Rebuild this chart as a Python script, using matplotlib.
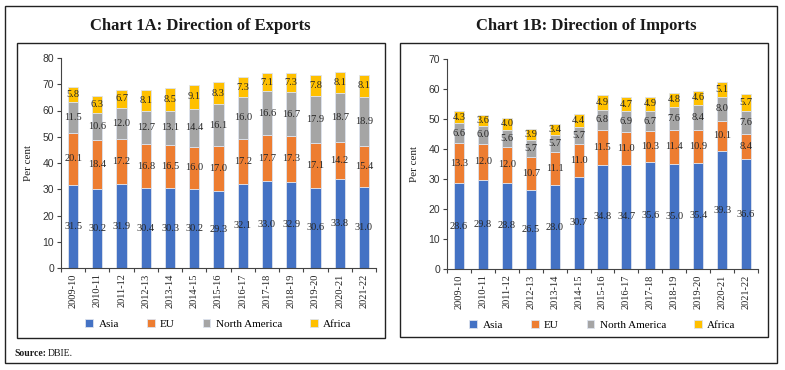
"""Direction of India's exports and imports by region (Charts 1A and 1B)."""

import matplotlib

matplotlib.use("Agg")
import matplotlib.pyplot as plt
from matplotlib.patches import Rectangle

years = ["2009-10", "2010-11", "2011-12", "2012-13", "2013-14", "2014-15", "2015-16",
         "2016-17", "2017-18", "2018-19", "2019-20", "2020-21", "2021-22"]
regions = ["Asia", "EU", "North America", "Africa"]

exp_asia = [31.5, 30.2, 31.9, 30.4, 30.3, 30.2, 29.3, 32.1, 33.0, 32.9, 30.6, 33.8, 31.0]
exp_eu = [20.1, 18.4, 17.2, 16.8, 16.5, 16.0, 17.0, 17.2, 17.7, 17.3, 17.1, 14.2, 15.4]
exp_na = [11.5, 10.6, 12.0, 12.7, 13.1, 14.4, 16.1, 16.0, 16.6, 16.7, 17.9, 18.7, 18.9]
exp_africa = [5.8, 6.3, 6.7, 8.1, 8.5, 9.1, 8.3, 7.3, 7.1, 7.3, 7.8, 8.1, 8.1]

imp_asia = [28.6, 29.8, 28.8, 26.5, 28.0, 30.7, 34.8, 34.7, 35.6, 35.0, 35.4, 39.3, 36.6]
imp_eu = [13.3, 12.0, 12.0, 10.7, 11.1, 11.0, 11.5, 11.0, 10.3, 11.4, 10.9, 10.1, 8.4]
imp_na = [6.6, 6.0, 5.6, 5.7, 5.7, 5.7, 6.8, 6.9, 6.7, 7.6, 8.4, 8.0, 7.6]
imp_africa = [4.3, 3.6, 4.0, 3.9, 3.4, 4.4, 4.9, 4.7, 4.9, 4.8, 4.6, 5.1, 5.7]

COLORS = ["#4472C4", "#ED7D31", "#A5A5A5", "#FFC000"]
SERIF = ["Liberation Serif", "DejaVu Serif"]
SANS = ["Liberation Sans", "DejaVu Sans"]
W, H = 785, 370


def _box(fig, x0, y0, x1, y1):
    # pixel coords (top-left origin) -> figure fraction
    fig.patches.append(Rectangle((x0 / W, 1 - y1 / H), (x1 - x0) / W, (y1 - y0) / H,
                                 transform=fig.transFigure, fill=False,
                                 edgecolor="#222222", linewidth=1.0))


def _panel(fig, rect, series, ymax, title, title_x):
    ax = fig.add_axes(rect)
    x = list(range(len(years)))
    bottom = [0.0] * len(years)
    for name, vals, color in zip(regions, series, COLORS):
        ax.bar(x, vals, width=0.42, bottom=bottom, color=color, label=name,
               edgecolor="#dde3ee", linewidth=0.6)
        for xi, b, v in zip(x, bottom, vals):
            ax.text(xi, b + v / 2, f"{v:.1f}", ha="center", va="center",
                    fontsize=7.5, family=SERIF, color="#262626")
        bottom = [b + v for b, v in zip(bottom, vals)]
    ax.set_xlim(-0.5, len(years) - 0.5)
    ax.set_ylim(0, ymax)
    ax.set_yticks(range(0, ymax + 1, 10))
    ax.tick_params(axis="y", labelsize=7.5, length=3, width=0.8, color="#444444",
                   labelcolor="#333333", pad=2)
    for lab in ax.get_yticklabels():
        lab.set_family(SANS)
    ax.set_xticks(x)
    ax.set_xticklabels(years, rotation=90, fontsize=7.5, family=SERIF, color="#222222")
    ax.set_xticks([i - 0.5 for i in range(len(years) + 1)], minor=True)
    ax.tick_params(axis="x", which="major", length=0, pad=4)
    ax.tick_params(axis="x", which="minor", length=3, width=0.8, color="#444444")
    ax.set_ylabel("Per cent", family=SERIF, fontsize=8, color="#222222", labelpad=7)
    for s in ("top", "right"):
        ax.spines[s].set_visible(False)
    for s in ("left", "bottom"):
        ax.spines[s].set_color("#444444")
        ax.spines[s].set_linewidth(0.8)
    ax.legend(loc="center", bbox_to_anchor=(0.5, -0.267), ncol=4, frameon=False,
              prop={"family": SERIF, "size": 8}, handlelength=0.7, handleheight=0.7,
              handletextpad=0.5, columnspacing=2.5, borderaxespad=0, borderpad=0)
    fig.text(title_x / W, 1 - 26 / H, title, ha="center", va="center",
             fontsize=12, fontweight="bold", family=SERIF, color="#1a1a1a")
    return ax


def main():
    fig = plt.figure(figsize=(W / 100, H / 100), dpi=100)
    _box(fig, 5, 6, 777, 363)
    _box(fig, 17, 43, 385, 338)
    _box(fig, 400, 43, 768, 337)

    _panel(fig, [61 / W, 1 - 268 / H, (376 - 61) / W, 210 / H],
           [exp_asia, exp_eu, exp_na, exp_africa], 80,
           "Chart 1A: Direction of Exports", 200)
    _panel(fig, [447 / W, 1 - 269 / H, (758 - 447) / W, 210 / H],
           [imp_asia, imp_eu, imp_na, imp_africa], 70,
           "Chart 1B: Direction of Imports", 586)

    fig.text(14 / W, 1 - 353 / H, "Source:", ha="left", va="center", fontsize=7,
             fontweight="bold", family=SERIF, color="#1a1a1a")
    fig.text(48 / W, 1 - 353 / H, "DBIE.", ha="left", va="center", fontsize=7,
             family=SERIF, color="#1a1a1a")
    fig.savefig("out.png", dpi=100)


if __name__ == "__main__":
    main()
